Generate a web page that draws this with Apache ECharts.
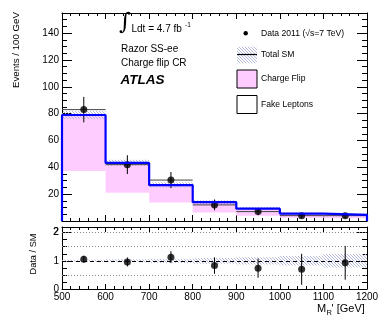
<!DOCTYPE html>
<html>
<head>
<meta charset="utf-8">
<script src="https://cdn.jsdelivr.net/npm/echarts@6/dist/echarts.min.js"></script>
<style>html,body{margin:0;padding:0;background:#fff}#c{width:390px;height:321px}</style>
</head>
<body>
<div id="c"></div>
<script>
// ---- data ----
const binLo = [500, 600, 700, 800, 900, 1000, 1100];
const binHi = [600, 700, 800, 900, 1000, 1100, 1200];
const totalSM = [79, 43.3, 26.8, 14, 9.2, 5.5, 4.5];
const totalErr = [3, 2.4, 2.0, 1.4, 1.2, 0.9, 1.1];
const fakeLeptons = [37.3, 21.1, 13.7, 6.3, 4, 2.5, 2];
const dataVals = [83, 42, 30.5, 12, 7, 4, 4];
const dataErr = [9.5, 7, 6, 4, 2.7, 2, 2];
const ratioVals = [1.06, 0.96, 1.13, 0.83, 0.74, 0.70, 0.93];
const ratioErr = [0.12, 0.16, 0.21, 0.29, 0.34, 0.55, 0.6];
const ratioBand = [0.04, 0.055, 0.075, 0.1, 0.13, 0.17, 0.24];
const ratioLines = [0.5, 1.5, 2];
const topYLabels = [20, 40, 60, 80, 100, 120, 140];
const ratioYLabels = [0, 1, 2];

const FONT = 'Liberation Sans';

// hatch pattern
const pc = document.createElement('canvas');
pc.width = 3; pc.height = 3;
const g = pc.getContext('2d');
g.strokeStyle = '#aeb2d6';
g.lineWidth = 0.9;
g.beginPath();
g.moveTo(0, 0); g.lineTo(3, 3);
g.moveTo(-1.5, 1.5); g.lineTo(1.5, 4.5);
g.moveTo(1.5, -1.5); g.lineTo(4.5, 1.5);
g.stroke();
const hatch = {image: pc, repeat: 'repeat'};

function rectItem(fill, stroke) {
  return function (params, api) {
    const p0 = api.coord([api.value(0), api.value(3)]);
    const p1 = api.coord([api.value(1), api.value(2)]);
    return {type: 'rect', shape: {x: p0[0], y: p0[1], width: p1[0] - p0[0], height: p1[1] - p0[1]},
      style: {fill: fill, stroke: stroke || null}};
  };
}
function errItem(horiz) {
  return function (params, api) {
    const xc = (api.value(0) + api.value(1)) / 2;
    const y = api.value(2), e = api.value(3);
    const a = api.coord([xc, y - e]), b = api.coord([xc, y + e]);
    const ch = [{type: 'line', shape: {x1: a[0], y1: a[1], x2: b[0], y2: b[1]}, style: {stroke: '#000', lineWidth: 1}}];
    if (horiz) {
      const l = api.coord([api.value(0), y]), r = api.coord([api.value(1), y]);
      ch.push({type: 'line', shape: {x1: l[0], y1: l[1], x2: r[0], y2: r[1]}, style: {stroke: '#444', lineWidth: 1}});
    }
    return {type: 'group', children: ch};
  };
}

const pinkData = binLo.map((lo, i) => [lo, binHi[i], fakeLeptons[i], totalSM[i]]);
const bandData = binLo.map((lo, i) => [lo, binHi[i], totalSM[i] - totalErr[i], totalSM[i] + totalErr[i]]);
const stepData = [[binLo[0], 0]].concat(binLo.map((lo, i) => [lo, totalSM[i]]))
  .concat([[binHi[binHi.length - 1], totalSM[totalSM.length - 1]], [binHi[binHi.length - 1], 0]]);
const dataErrData = binLo.map((lo, i) => [lo, binHi[i], dataVals[i], dataErr[i]]);
const dataPts = binLo.map((lo, i) => [(lo + binHi[i]) / 2, dataVals[i]]);
const rBandData = binLo.map((lo, i) => [lo, binHi[i], 1 - ratioBand[i], 1 + ratioBand[i]]);
const rErrData = binLo.map((lo, i) => [lo, binHi[i], ratioVals[i], ratioErr[i]]);
const rPts = binLo.map((lo, i) => [(lo + binHi[i]) / 2, ratioVals[i]]);

function xAx(grid, pos, labels, majLen, minLen) {
  return {type: 'value', gridIndex: grid, position: pos, min: 500, max: 1200, interval: 100,
    axisLine: {show: true, onZero: false, lineStyle: {color: '#000', width: 1}},
    axisTick: {show: true, inside: true, length: majLen, lineStyle: {color: '#000'}},
    minorTick: {show: true, splitNumber: 5, length: minLen, lineStyle: {color: '#000'}},
    splitLine: {show: false}, minorSplitLine: {show: false},
    axisLabel: {show: labels, margin: 3, fontFamily: FONT, fontSize: 10, color: '#000',
      formatter: v => String(v)}};
}
function yAx(grid, pos, labels, max, interval, minor, labelVals) {
  return {type: 'value', gridIndex: grid, position: pos, min: 0, max: max, interval: interval,
    axisLine: {show: true, onZero: false, lineStyle: {color: '#000', width: 1}},
    axisTick: {show: true, inside: true, length: 10, lineStyle: {color: '#000'}},
    minorTick: {show: true, splitNumber: minor, length: 5, lineStyle: {color: '#000'}},
    splitLine: {show: false}, minorSplitLine: {show: false},
    axisLabel: {show: labels, margin: 3, fontFamily: FONT, fontSize: 10, color: '#000',
      customValues: labelVals, formatter: v => String(v)}};
}

const option = {
  animation: false,
  backgroundColor: '#fff',
  grid: [
    {left: 62, right: 23, top: 13, height: 208},
    {left: 62, right: 23, top: 227, height: 62}
  ],
  xAxis: [
    xAx(0, 'bottom', false, 6, 3), xAx(0, 'top', false, 6, 3),
    xAx(1, 'bottom', true, 5, 3), xAx(1, 'top', false, 5, 3)
  ],
  yAxis: [
    yAx(0, 'left', true, 155, 20, 4, topYLabels), yAx(0, 'right', false, 155, 20, 4, topYLabels),
    yAx(1, 'left', true, 2.2, 1, 4, ratioYLabels), yAx(1, 'right', false, 2.2, 1, 4, ratioYLabels)
  ],
  series: [
    {type: 'custom', xAxisIndex: 0, yAxisIndex: 0, renderItem: rectItem('#ffccff'), data: pinkData, silent: true},
    {type: 'custom', xAxisIndex: 0, yAxisIndex: 0, renderItem: rectItem(hatch), data: bandData, silent: true},
    {type: 'line', xAxisIndex: 0, yAxisIndex: 0, step: 'end', data: stepData, symbol: 'none',
      lineStyle: {color: '#0000ff', width: 2.2}, silent: true},
    {type: 'custom', xAxisIndex: 0, yAxisIndex: 0, renderItem: errItem(true), data: dataErrData, silent: true},
    {type: 'scatter', xAxisIndex: 0, yAxisIndex: 0, data: dataPts, symbol: 'circle', symbolSize: 7,
      itemStyle: {color: '#000'}, silent: true},
    {type: 'custom', xAxisIndex: 2, yAxisIndex: 2, renderItem: rectItem(hatch), data: rBandData, silent: true},
    {type: 'line', xAxisIndex: 2, yAxisIndex: 2, data: [], silent: true,
      markLine: {silent: true, symbol: ['none', 'none'], label: {show: false},
        data: ratioLines.map(v => ({yAxis: v, lineStyle: {color: '#888', type: [1, 2], width: 1}}))
          .concat([{yAxis: 1, lineStyle: {color: '#000', type: [4, 3], width: 1}}])}},
    {type: 'custom', xAxisIndex: 2, yAxisIndex: 2, renderItem: errItem(false), data: rErrData, silent: true},
    {type: 'scatter', xAxisIndex: 2, yAxisIndex: 2, data: rPts, symbol: 'circle', symbolSize: 7,
      itemStyle: {color: '#000'}, silent: true}
  ],
  graphic: [
    {type: 'text', x: 16.5, y: 50, rotation: Math.PI / 2,
      style: {text: 'Events / 100 GeV', fontFamily: FONT, fontSize: 9.7, fill: '#000', align: 'center', verticalAlign: 'middle'}},
    {type: 'text', x: 33, y: 254, rotation: Math.PI / 2,
      style: {text: 'Data / SM', fontFamily: FONT, fontSize: 9.2, fill: '#000', align: 'center', verticalAlign: 'middle'}},
    {type: 'text', x: 317, y: 309, style: {text: 'M', fontFamily: FONT, fontSize: 11, fill: '#000', verticalAlign: 'middle'}},
    {type: 'text', x: 326.5, y: 313, style: {text: 'R', fontFamily: FONT, fontSize: 7.5, fill: '#000', verticalAlign: 'middle'}},
    {type: 'text', x: 331.5, y: 309, style: {text: "' [GeV]", fontFamily: FONT, fontSize: 11, fill: '#000', verticalAlign: 'middle'}},
    {type: 'text', x: 119, y: 23, style: {text: '\u222B', fontFamily: 'DejaVu Serif', fontSize: 23, fill: '#000', verticalAlign: 'middle'}},
    {type: 'text', x: 131.5, y: 29.5, style: {text: 'Ldt = 4.7 fb', fontFamily: FONT, fontSize: 10, fill: '#000', verticalAlign: 'middle'}},
    {type: 'text', x: 185, y: 25, style: {text: '-1', fontFamily: FONT, fontSize: 6.5, fill: '#000', verticalAlign: 'middle'}},
    {type: 'text', x: 121, y: 49.5, style: {text: 'Razor SS-ee', fontFamily: FONT, fontSize: 10, fill: '#000', verticalAlign: 'middle'}},
    {type: 'text', x: 121, y: 63, style: {text: 'Charge flip CR', fontFamily: FONT, fontSize: 10, fill: '#000', verticalAlign: 'middle'}},
    {type: 'text', x: 120.5, y: 80, style: {text: 'ATLAS', fontFamily: FONT, fontSize: 13.5, fontWeight: 'bold', fontStyle: 'italic', fill: '#000', verticalAlign: 'middle'}},
    {type: 'circle', shape: {cx: 245.7, cy: 33.3, r: 2.2}, style: {fill: '#000'}},
    {type: 'text', x: 261, y: 33.3, style: {text: 'Data 2011 (\u221As=7 TeV)', fontFamily: FONT, fontSize: 8.6, fill: '#000', verticalAlign: 'middle'}},
    {type: 'rect', shape: {x: 237, y: 46.7, width: 20, height: 16.6}, style: {fill: hatch}},
    {type: 'line', shape: {x1: 237, y1: 54.5, x2: 257, y2: 54.5}, style: {stroke: '#000', lineWidth: 1.2}},
    {type: 'text', x: 261, y: 55, style: {text: 'Total SM', fontFamily: FONT, fontSize: 8.6, fill: '#000', verticalAlign: 'middle'}},
    {type: 'rect', shape: {x: 237, y: 70, width: 20, height: 18}, style: {fill: '#ffccff', stroke: '#000', lineWidth: 1}},
    {type: 'text', x: 261, y: 79, style: {text: 'Charge Flip', fontFamily: FONT, fontSize: 8.6, fill: '#000', verticalAlign: 'middle'}},
    {type: 'rect', shape: {x: 237, y: 95.5, width: 20, height: 18}, style: {fill: '#fff', stroke: '#000', lineWidth: 1}},
    {type: 'text', x: 261, y: 104.5, style: {text: 'Fake Leptons', fontFamily: FONT, fontSize: 8.6, fill: '#000', verticalAlign: 'middle'}},
    // ratio-panel top tick label
    {type: 'text', z: 300, left: 53, top: 227.5, style: {text: '2', fontFamily: FONT, fontSize: 10, fill: '#000'}}
  ]
};

const chart = echarts.init(document.getElementById('c'), null, {renderer: 'canvas'});
chart.setOption(option);
</script>
</body>
</html>
